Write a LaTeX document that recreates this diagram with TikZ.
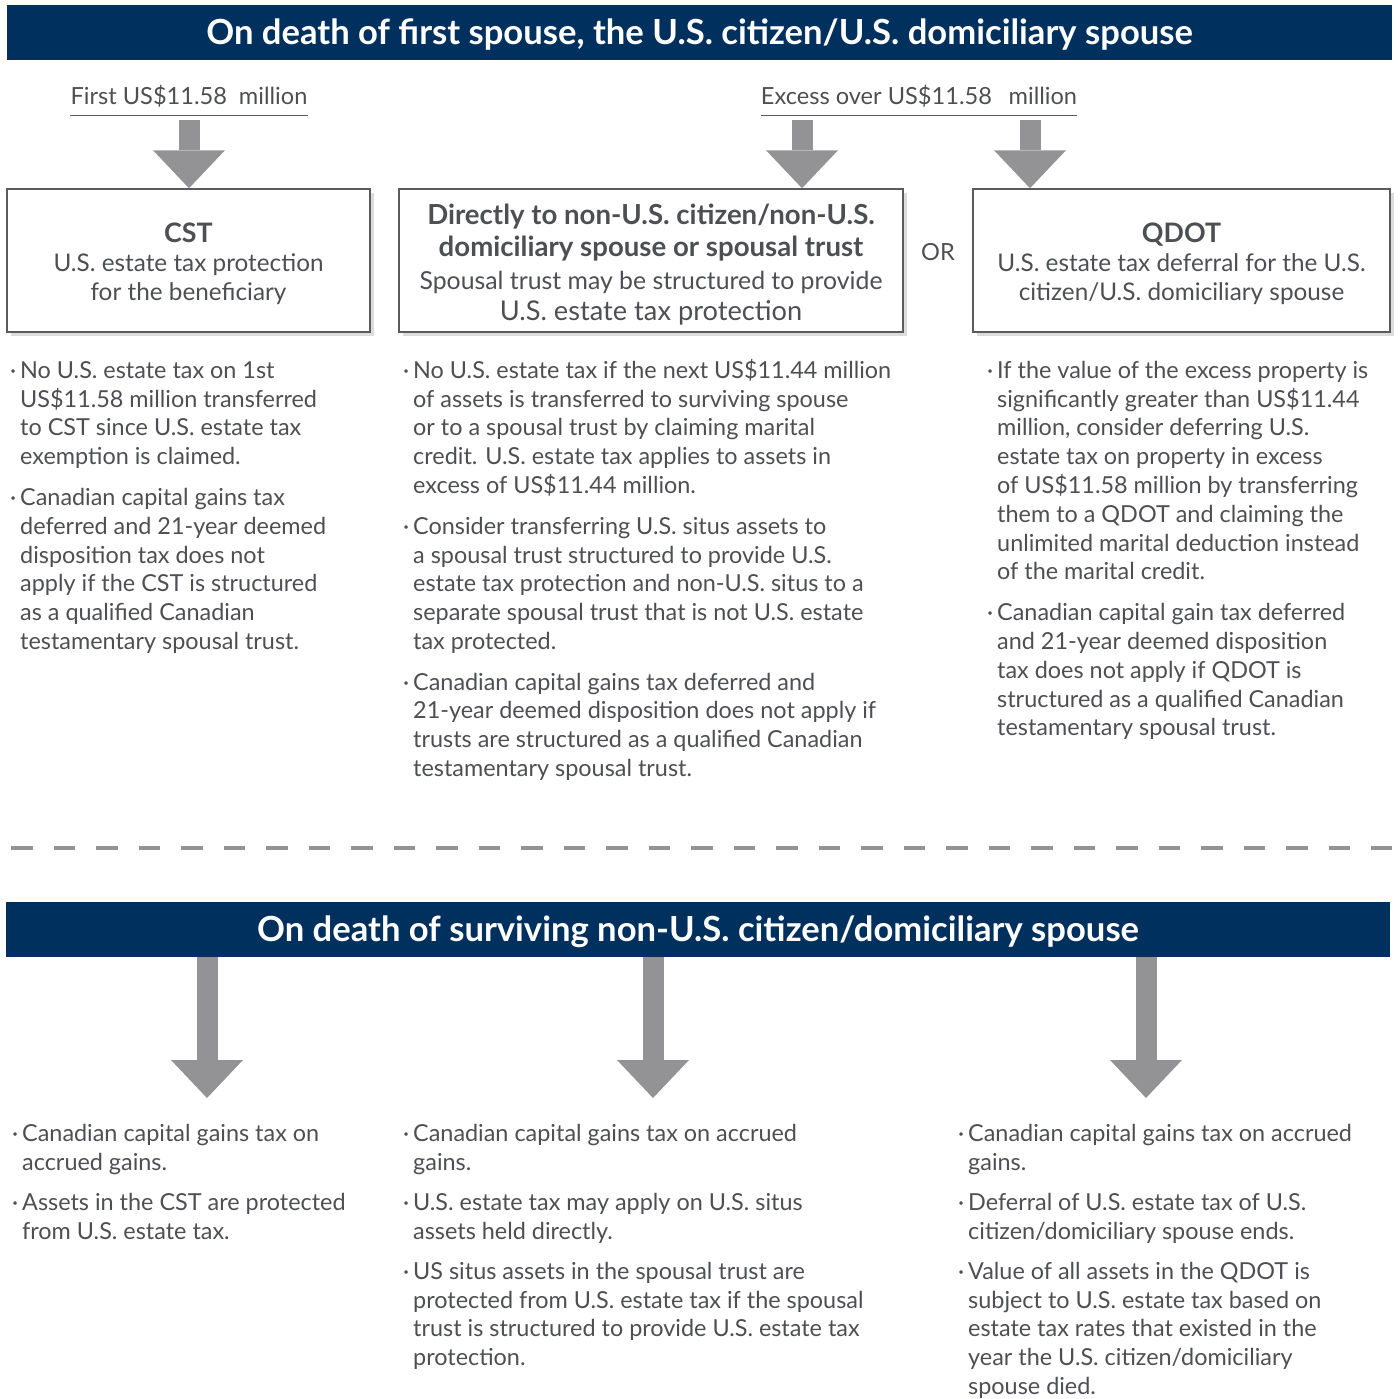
\documentclass[tikz,border=0pt]{standalone}
\usepackage{fontspec}
\setmainfont{Lato}
\usetikzlibrary{positioning, arrows.meta, shadows}
\definecolor{navy}{HTML}{00305E}
\definecolor{arrowgray}{HTML}{939295}
\definecolor{textgray}{HTML}{4D4F53}
\definecolor{linegray}{HTML}{5A5B5D}
\newcommand{\bpt}[1]{\begin{tabular}[t]{@{}l@{}l@{}}\makebox[10pt][l]{\textperiodcentered} & #1\end{tabular}}
\newcommand{\hd}[2][26.8]{{\fontsize{#1}{30}\selectfont\bfseries #2}}

\begin{document}
\begin{tikzpicture}[x=1pt, y=-1pt, text=textgray, font=\fontsize{23.4}{28.8}\selectfont,
  banner/.style={fill=navy, text=white, minimum height=55pt, inner sep=0pt, text height=28pt, text depth=4pt,
    font=\fontsize{34.6}{38}\selectfont\bfseries},
  box/.style={draw=linegray, line width=1.5pt, fill=white, minimum height=143pt, align=center, inner sep=0pt,
    font=\fontsize{24.3}{29}\selectfont,
    drop shadow={shadow xshift=4pt, shadow yshift=-4pt, opacity=.3, fill=black!45}},
  lbl/.style={inner sep=0pt, font=\fontsize{23.6}{26}\selectfont},
  item/.style={anchor=north west, inner sep=0pt},
  bigarrow/.style={draw=arrowgray, line width=21pt, -{Triangle[length=38pt, width=72pt, line width=0pt, fill=arrowgray]}}]% sizes in px of the 1400 wide page
\useasboundingbox (0,0) rectangle (1400,1398);
\node[banner, minimum width=1385pt] (ban1) at (699.5,32.5) {On death of first spouse, the U.S. citizen/U.S. domiciliary spouse};

\node[lbl] (first) at (189,96) {First US\$11.58\hspace{0.25em} million};
\node[lbl] (excess) at (919,96) {Excess over US\$11.58\hspace{0.45em} million};
\foreach \n in {first, excess}{
    \draw[linegray, line width=1pt] ([yshift=-8pt]\n.south west) -- ([yshift=-8pt]\n.south east);}

\node[box, minimum width=363pt] (cst) at (188.5,260.5) {\rule{0pt}{27pt}\hd{CST}\\U.S. estate tax protection\\for the beneficiary};
\node[box, minimum width=504pt] (direct) at (651,260.5) {\rule{0pt}{28pt}\hd[27.6]{Directly to non-U.S. citizen/non-U.S.}\\[3pt]\hd[27.6]{domiciliary spouse or spousal trust}\\[4pt]{\fontsize{24.8}{29}\selectfont Spousal trust may be structured to provide}\\[2pt]{\fontsize{27.2}{31}\selectfont U.S. estate tax protection}};
\node[box, minimum width=417pt] (qdot) at (1181.5,260.5) {\rule{0pt}{27pt}\hd{QDOT}\\U.S. estate tax deferral for the U.S.\\citizen/U.S. domiciliary spouse};
\node[lbl] (or) at (938,252) {OR};

\foreach \x/\n in {189/f1, 802/e1, 1030/e2}{
    \coordinate (\n) at (\x,120);}
\draw[bigarrow] (f1) -- (f1 |- cst.north);
\draw[bigarrow] (e1) -- (e1 |- direct.north);
\draw[bigarrow] (e2) -- (e2 |- qdot.north);

\node[item] (c1a) at (10,358) {\bpt{No U.S. estate tax on 1st\\ & US\$11.58 million transferred\\ & to CST since U.S. estate tax\\ & exemption is claimed.}};
\node[item, below right=11.5pt and 0pt of c1a.south west] (c1b) {\bpt{Canadian capital gains tax\\ & deferred and 21-year deemed\\ & disposition tax does not\\ & apply if the CST is structured\\ & as a qualified Canadian\\ & testamentary spousal trust.}};

\node[item] (c2a) at (403,358) {\bpt{No U.S. estate tax if the next US\$11.44 million\\ & of assets is transferred to surviving spouse\\ & or to a spousal trust by claiming marital\\ & credit. U.S. estate tax applies to assets in\\ & excess of US\$11.44 million.}};
\node[item, below right=11.5pt and 0pt of c2a.south west] (c2b) {\bpt{Consider transferring U.S. situs assets to\\ & a spousal trust structured to provide U.S.\\ & estate tax protection and non-U.S. situs to a\\ & separate spousal trust that is not U.S. estate\\ & tax protected.}};
\node[item, below right=11.5pt and 0pt of c2b.south west] (c2c) {\bpt{Canadian capital gains tax deferred and\\ & 21-year deemed disposition does not apply if\\ & trusts are structured as a qualified Canadian\\ & testamentary spousal trust.}};

\node[item] (c3a) at (987,358) {\bpt{If the value of the excess property is\\ & significantly greater than US\$11.44\\ & million, consider deferring U.S.\\ & estate tax on property in excess\\ & of US\$11.58 million by transferring\\ & them to a QDOT and claiming the\\ & unlimited marital deduction instead\\ & of the marital credit.}};
\node[item, below right=11.5pt and 0pt of c3a.south west] (c3b) {\bpt{Canadian capital gain tax deferred\\ & and 21-year deemed disposition\\ & tax does not apply if QDOT is\\ & structured as a qualified Canadian\\ & testamentary spousal trust.}};

\draw[arrowgray, line width=4pt, dash pattern=on 21.5pt off 21pt] (11,848) -- (1392,848);

\node[banner, minimum width=1384pt] (ban2) at (698,929.5) {On death of surviving non-U.S. citizen/domiciliary spouse};
\foreach \x/\n in {207/s1, 653/s2, 1146/s3}{
    \coordinate (\n) at (\x,1098);
    \draw[bigarrow] (\n |- ban2.south) -- (\n);}

\node[item] (d1a) at (12,1121) {\bpt{Canadian capital gains tax on\\ & accrued gains.}};
\node[item, below right=11pt and 0pt of d1a.south west] (d1b) {\bpt{Assets in the CST are protected\\ & from U.S. estate tax.}};

\node[item] (d2a) at (403,1121) {\bpt{Canadian capital gains tax on accrued\\ & gains.}};
\node[item, below right=11pt and 0pt of d2a.south west] (d2b) {\bpt{U.S. estate tax may apply on U.S. situs\\ & assets held directly.}};
\node[item, below right=11pt and 0pt of d2b.south west] (d2c) {\bpt{US situs assets in the spousal trust are\\ & protected from U.S. estate tax if the spousal\\ & trust is structured to provide U.S. estate tax\\ & protection.}};

\node[item] (d3a) at (958,1121) {\bpt{Canadian capital gains tax on accrued\\ & gains.}};
\node[item, below right=11pt and 0pt of d3a.south west] (d3b) {\bpt{Deferral of U.S. estate tax of U.S.\\ & citizen/domiciliary spouse ends.}};
\node[item, below right=11pt and 0pt of d3b.south west] (d3c) {\bpt{Value of all assets in the QDOT is\\ & subject to U.S. estate tax based on\\ & estate tax rates that existed in the\\ & year the U.S. citizen/domiciliary\\ & spouse died.}};
\end{tikzpicture}
\end{document}
